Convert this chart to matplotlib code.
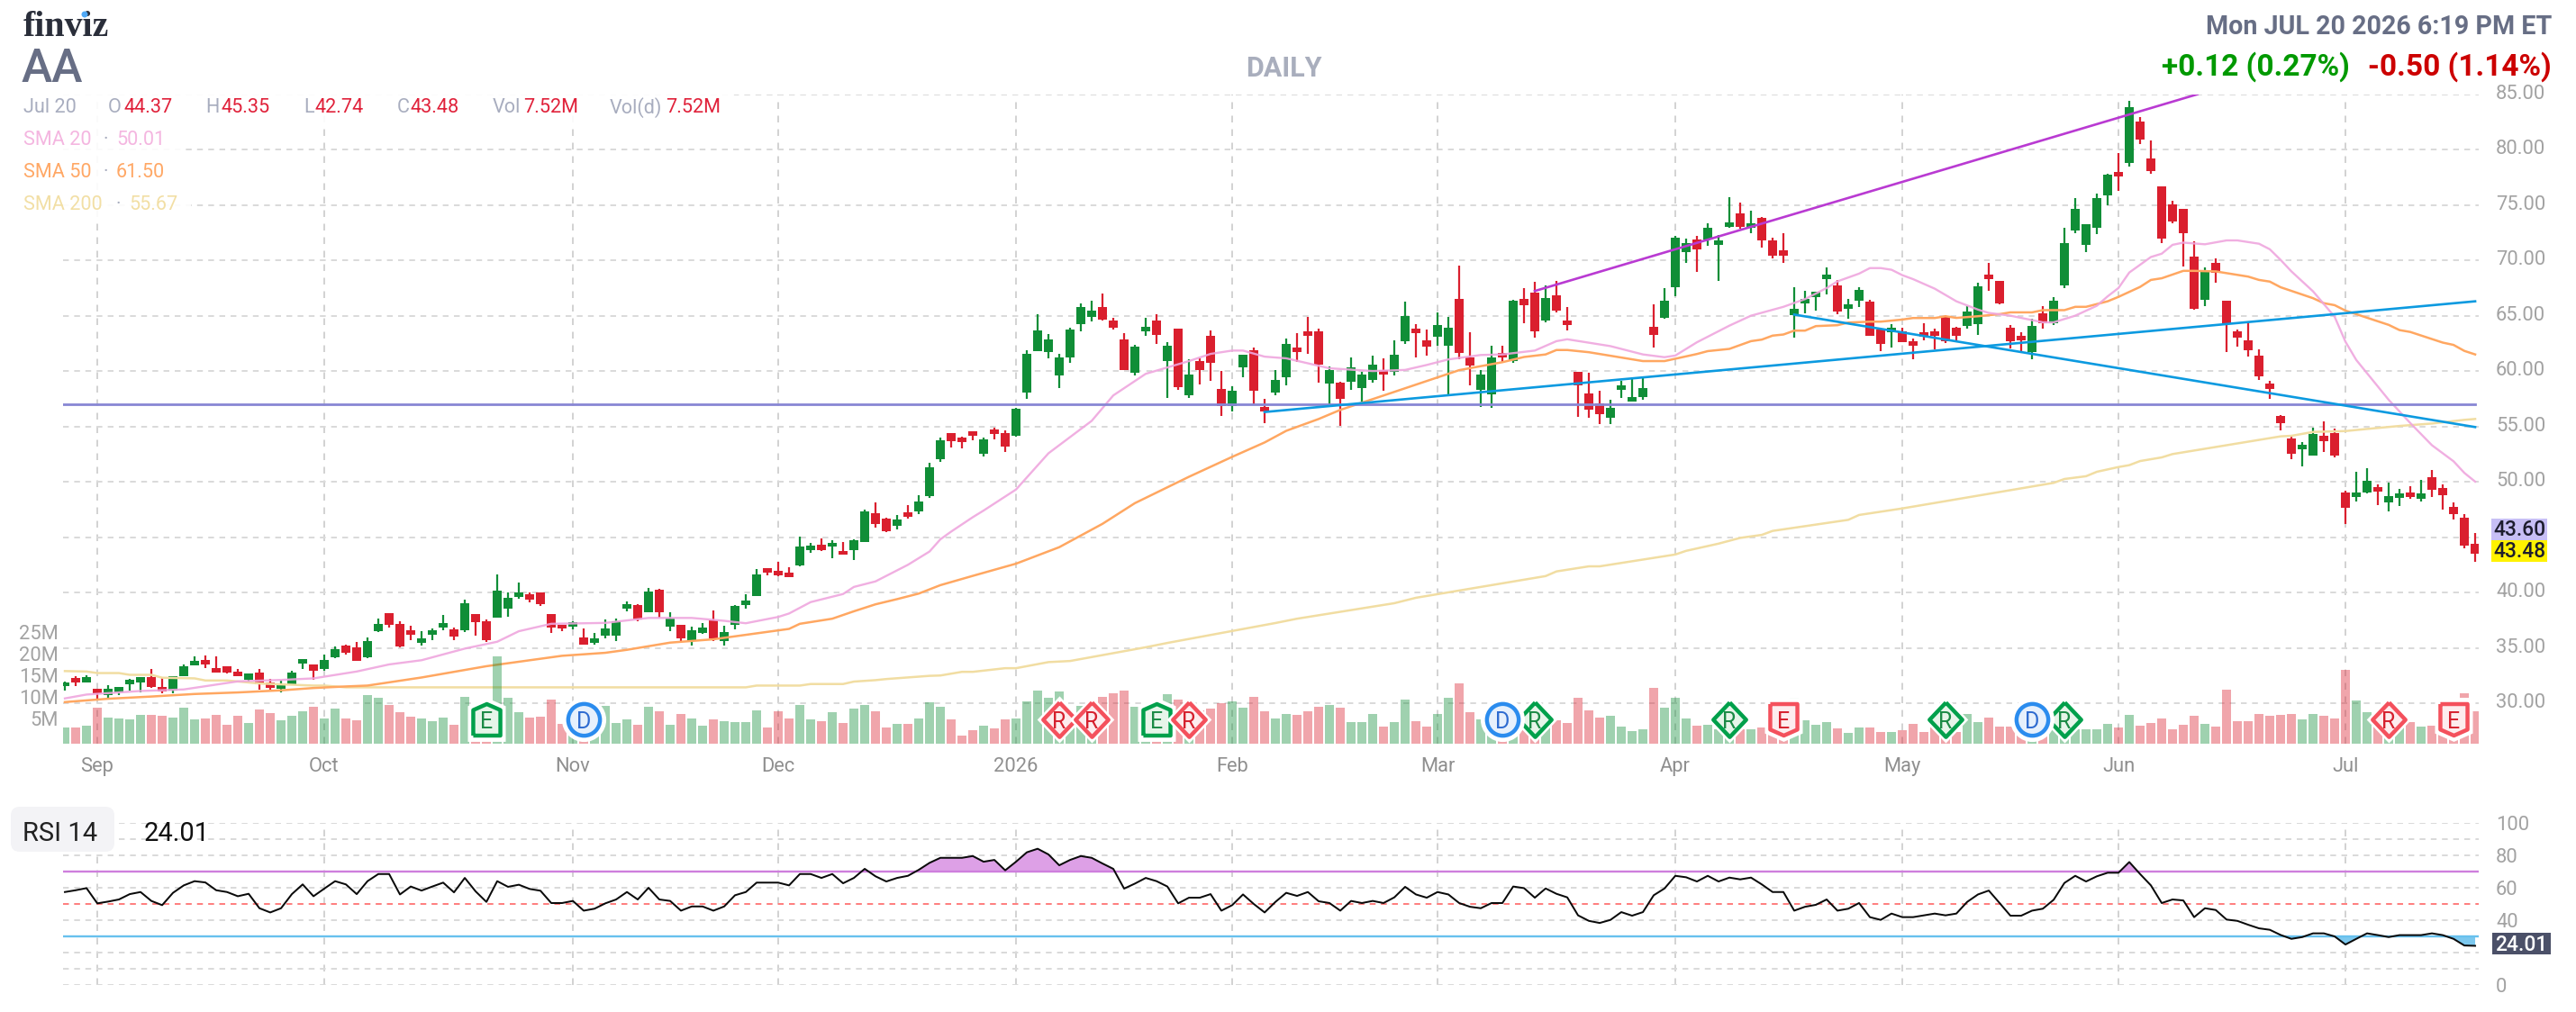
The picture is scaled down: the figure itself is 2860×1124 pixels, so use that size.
import numpy as np
import matplotlib
matplotlib.use("Agg")
import matplotlib.pyplot as plt
from matplotlib.patches import Rectangle, FancyBboxPatch, Ellipse
from matplotlib.transforms import ScaledTranslation, IdentityTransform

plt.rcParams["font.family"] = ["Roboto", "DejaVu Sans"]

opens = [31.51,32.24,31.91,31.27,30.7,30.94,31.67,31.91,32.32,31.43,31.11,32.48,33.45,33.93,33.21,33.37,32.88,32.08,32.8,31.91,
    31.27,31.67,33.61,33.53,33.13,34.18,35.23,35.07,34.18,36.52,38.14,37.17,36.6,35.47,36.2,36.85,36.68,36.6,38.06,37.41,
    37.73,38.54,39.59,39.84,39.97,38.03,37.11,36.9,35.93,35.44,36.09,36.09,38.52,38.84,38.19,40.21,36.9,37.06,35.61,36.33,
    37.46,35.61,37.06,38.84,39.7,42.2,41.95,41.8,42.48,43.86,44.35,44.11,43.78,43.86,44.59,47.19,46.7,46.05,47.27,47.35,
    48.73,52.05,54.4,54.0,54.57,52.54,54.73,54.4,54.16,58.08,61.77,61.69,59.64,61.2,64.23,64.89,65.79,64.56,62.84,59.81,
    63.58,64.56,60.87,63.82,57.84,60.87,63.17,58.41,56.86,60.3,61.86,56.77,58.08,59.4,62.1,63.58,63.58,58.9,58.99,59.07,
    58.49,59.23,60.13,59.89,62.68,63.82,62.76,63.08,62.26,66.53,61.2,58.33,57.92,61.67,60.94,66.55,67.12,64.6,66.87,64.6,
    59.96,58.01,57.12,55.74,58.34,57.28,57.69,64.0,64.84,67.61,70.78,71.92,71.92,71.43,73.05,74.27,72.97,73.87,71.83,70.94,
    65.09,66.14,66.71,68.34,67.77,65.65,66.39,66.31,63.79,63.54,63.62,62.73,63.54,63.62,64.92,63.95,64.11,64.27,68.75,68.18,
    63.95,63.14,61.73,65.18,64.28,67.76,72.66,71.43,72.9,75.9,78.0,78.81,82.54,79.23,76.71,75.09,74.67,70.37,66.47,69.8,
    66.38,63.59,62.81,61.37,58.84,55.93,53.89,52.93,52.36,54.13,54.37,49.02,48.6,49.02,49.5,48.12,48.54,49.02,48.45,50.41,
    49.41,47.73,46.74,44.37]
highs = [31.99,32.48,32.56,31.27,31.59,31.43,32.16,32.32,33.05,32.24,32.48,33.53,34.26,34.34,34.26,33.37,33.13,32.72,33.05,32.16,
    32.0,32.96,34.02,33.53,34.42,35.15,35.31,35.55,35.96,37.65,38.14,37.41,37.0,36.52,36.76,37.98,36.85,39.35,38.06,37.57,
    41.62,40.0,40.89,40.0,40.0,38.03,37.11,37.36,36.71,36.36,37.57,37.63,39.16,38.92,40.38,40.29,38.19,37.06,36.9,37.22,
    38.35,36.98,38.84,39.81,42.15,42.2,42.8,42.3,45.08,44.51,44.92,44.76,44.59,44.84,47.51,48.16,46.78,47.03,47.92,48.81,
    51.73,54.0,54.4,54.08,54.57,54.0,54.89,54.65,56.68,61.86,65.13,63.33,61.53,63.9,66.12,66.36,67.02,64.81,63.41,62.35,
    64.81,65.13,62.59,63.82,61.04,61.12,63.66,59.97,58.66,61.45,62.1,57.51,60.13,62.92,63.41,64.89,63.82,60.38,59.07,61.2,
    59.89,61.36,61.12,62.76,66.28,64.23,63.74,65.3,64.89,69.5,63.49,60.13,62.26,62.26,66.47,67.53,68.09,67.77,68.18,65.82,
    59.96,59.88,58.18,57.44,59.15,59.31,59.4,66.06,67.53,72.24,72.0,72.24,73.38,72.32,75.74,75.25,74.52,73.95,72.08,72.48,
    67.61,67.28,67.2,69.4,68.26,66.55,67.61,66.47,63.79,64.27,63.95,62.97,64.35,63.87,65.09,64.03,65.9,68.01,69.8,68.18,
    64.19,63.47,64.76,65.9,66.65,72.96,75.66,73.29,76.02,77.82,79.71,84.4,82.96,80.86,76.71,75.39,74.67,71.75,69.35,70.19,
    66.38,63.71,64.4,61.94,59.08,55.99,54.13,53.56,54.88,55.42,54.79,49.17,50.88,51.21,49.75,49.92,49.35,49.59,50.16,51.03,
    49.75,48.12,47.07,45.35]
lows = [31.1,31.51,31.91,30.3,30.38,30.7,31.11,30.94,31.35,30.86,30.86,32.48,33.45,33.21,32.8,32.72,32.4,31.91,31.19,31.19,
    30.94,31.59,33.05,32.08,32.96,34.1,34.42,33.85,34.1,36.44,36.85,35.07,35.71,35.23,35.71,36.6,35.71,36.44,36.12,35.55,
    37.73,37.82,39.43,39.11,38.79,36.36,36.5,36.68,35.28,35.28,35.88,35.61,38.27,37.38,38.19,37.71,36.5,35.52,35.2,36.25,
    35.61,35.2,36.66,38.52,39.7,41.55,41.45,41.4,42.4,43.62,43.78,43.13,43.38,42.89,44.59,45.89,45.48,45.73,46.7,47.11,
    48.57,51.81,53.11,53.03,53.76,52.3,53.84,52.7,54.08,57.51,61.77,61.12,58.49,60.71,63.58,64.48,64.56,63.74,60.05,59.64,
    63.17,62.43,57.6,58.33,57.6,58.82,59.15,55.95,56.36,59.4,57.02,55.3,57.84,58.74,60.79,61.53,58.99,56.86,55.05,58.33,
    57.26,58.99,58.25,59.64,62.43,61.2,61.36,62.26,57.92,61.04,58.74,56.77,56.69,60.76,60.78,64.35,63.05,64.44,65.33,63.7,
    55.9,55.74,55.17,55.17,57.53,57.28,57.44,62.16,64.76,66.79,69.8,68.99,71.35,68.18,72.97,72.89,72.48,71.18,70.21,69.8,
    63.05,65.25,65.49,66.96,65.17,64.76,65.82,63.14,61.83,62.16,62.65,61.1,62.81,61.92,62.57,62.73,63.87,63.3,67.28,65.99,
    62.06,61.79,61.07,63.83,64.13,67.46,72.48,70.77,72.39,75.0,76.29,78.51,80.53,77.85,71.52,73.38,69.47,65.57,65.9,68.0,
    61.7,62.18,61.28,59.17,57.46,54.61,52.03,51.37,52.36,52.69,52.18,46.17,48.21,48.93,47.88,47.31,47.79,48.45,48.21,48.6,
    47.46,46.59,43.98,42.74]
closes = [31.91,31.83,32.32,30.86,31.27,31.43,32.08,32.32,31.43,31.03,32.4,33.37,33.85,33.53,32.8,32.8,32.48,32.72,31.67,31.35,
    31.67,32.8,34.02,32.96,33.93,34.9,34.58,33.85,35.63,37.17,37.09,35.15,36.2,35.87,36.6,37.25,36.04,39.03,37.33,35.71,
    40.16,39.51,40.0,39.35,38.92,36.82,36.74,37.3,35.28,35.82,36.74,37.38,38.92,37.55,40.05,38.19,37.63,35.85,36.58,36.82,
    35.85,36.41,38.76,39.24,41.62,41.8,41.55,41.4,44.19,44.27,43.86,44.51,43.38,44.76,47.35,46.21,45.57,46.62,46.86,48.24,
    51.32,53.76,53.67,53.59,54.16,53.84,54.32,53.19,56.62,61.53,63.66,62.84,61.2,63.74,65.79,65.46,64.64,63.9,60.13,62.18,
    63.99,63.25,62.26,58.58,59.72,60.05,60.71,56.86,58.25,61.45,58.25,56.36,59.23,62.43,61.69,63.17,60.54,60.05,57.51,60.3,
    59.72,60.54,59.72,61.45,64.97,63.41,62.18,64.15,63.9,61.61,60.46,59.72,61.2,61.26,66.39,65.98,63.62,66.63,65.49,64.19,
    58.74,56.55,56.14,56.71,58.74,57.69,58.5,63.3,66.39,72.08,71.59,71.02,72.97,71.83,73.46,73.05,73.38,71.83,70.45,70.45,
    65.65,66.55,67.2,68.75,65.41,66.06,67.36,63.22,62.48,63.95,62.65,62.32,63.13,63.22,62.73,63.22,65.41,67.69,68.34,66.14,
    62.69,62.75,64.04,64.28,66.38,71.52,74.67,73.29,75.66,77.76,77.58,83.86,80.92,78.09,72.0,73.5,72.48,65.63,69.08,68.9,
    64.28,62.99,61.85,59.5,58.42,55.27,52.51,53.32,54.31,53.65,52.36,47.64,49.02,50.07,49.12,48.69,48.93,48.6,48.93,49.26,
    48.78,47.07,44.22,43.48]
volumes = [3.75,3.75,4.17,8.33,6.04,5.83,5.63,6.67,6.67,6.46,6.04,8.33,5.63,5.83,6.67,4.38,6.46,4.79,7.92,7.08,
    5.42,6.46,7.5,8.54,5.83,8.13,5.83,5.42,11.25,10.63,8.96,7.29,6.25,5.83,5.21,6.04,4.38,10.83,6.0,6.0,
    20.2,10.63,7.29,6.04,6.25,10.21,4.58,5.4,5.4,5.4,8.75,4.79,5.63,4.38,8.54,7.5,4.38,6.88,5.83,4.17,
    5.63,5.21,5.0,5.0,7.71,3.75,7.5,5.83,8.96,5.63,5.21,7.29,4.79,8.13,9.04,7.53,3.77,4.6,4.6,5.86,
    9.62,8.62,5.69,1.92,3.18,4.18,3.6,5.69,5.86,9.87,12.3,10.71,12.13,7.0,8.79,7.0,10.88,11.72,12.3,8.62,
    7.0,7.0,11.55,10.3,7.0,7.8,8.2,9.29,9.87,8.37,10.88,7.53,5.86,6.95,6.69,7.53,8.62,9.04,8.37,5.02,
    5.02,6.95,4.02,5.02,10.29,5.27,4.02,6.95,10.71,13.97,7.36,5.69,7.0,6.0,7.0,6.0,6.0,5.5,5.44,4.85,
    10.71,7.78,6.11,6.53,4.02,2.93,3.35,12.97,8.37,10.71,5.86,4.18,4.44,3.4,3.5,3.33,3.33,3.75,4.0,4.0,
    10.63,5.42,4.38,5.0,3.54,2.5,3.75,3.75,2.71,2.71,3.13,4.58,2.71,3.7,3.5,2.71,6.88,5.0,6.04,3.96,
    3.96,3.5,3.5,2.6,3.5,3.5,3.33,3.33,3.33,4.58,3.75,6.67,4.17,4.79,5.83,3.33,4.38,6.46,4.58,3.96,
    12.5,5.21,5.21,6.88,6.46,6.67,6.88,5.63,6.88,6.46,5.83,17.08,10.0,7.29,6.0,5.0,5.0,5.0,3.96,4.17,
    4.5,5.0,11.67,7.52]
rsi = [57.2,58.3,59.6,50.2,51.3,52.6,55.9,57.2,51.7,49.1,56.7,61.3,63.9,63.1,58.3,57.2,54.6,56.1,47.2,44.6,
    47.2,55.9,61.9,54.6,59.3,63.9,61.9,55.9,63.9,68.3,68.3,55.7,60.6,58.1,60.6,63.0,57.0,65.9,57.6,51.1,
    63.9,60.4,61.7,59.1,58.0,50.4,50.4,51.7,45.7,46.9,50.2,52.6,57.2,52.6,59.8,52.6,51.7,45.7,48.3,48.3,
    45.7,48.3,55.2,57.2,63.0,63.0,63.0,61.3,68.3,68.3,65.9,68.3,62.6,65.9,71.5,66.9,63.7,65.9,67.2,70.9,
    75.2,78.3,78.3,78.3,79.4,75.9,77.0,70.6,75.9,81.7,83.9,80.4,73.7,77.0,79.4,78.3,74.8,71.5,59.3,62.4,
    65.9,63.9,60.6,50.2,53.7,53.7,55.9,45.7,49.1,55.7,49.8,44.6,51.1,56.7,54.8,57.2,51.5,50.4,45.7,51.7,
    50.4,51.7,50.4,53.9,60.4,55.7,53.7,57.2,55.7,50.4,48.1,47.2,50.4,50.4,60.6,59.6,53.7,59.4,56.1,53.9,
    42.8,39.4,38.1,40.0,44.8,42.6,44.8,55.2,59.4,67.2,66.3,63.7,67.2,63.7,66.1,65.0,66.1,61.9,57.2,57.2,
    45.7,48.1,49.3,52.6,45.7,46.9,50.4,41.7,40.0,43.9,41.7,41.7,42.8,43.9,42.8,43.9,51.1,55.7,58.1,50.4,
    42.6,42.6,45.7,46.9,52.4,62.8,67.2,63.7,66.9,69.1,69.1,75.7,68.3,61.3,50.4,52.6,52.0,41.7,47.2,46.1,
    40.2,39.4,37.0,34.8,33.9,30.7,28.3,29.4,31.7,31.7,29.8,24.8,28.3,31.7,30.6,29.4,30.6,30.6,30.6,31.7,
    30.6,28.3,24.2,24.01]

sma20_bars = [0,2,7,11,16,20,23,27,30,33,37,40,42,45,50,54,58,61,63,66,67,69,72,73,75,78,80,81,82,84,85,88,91,95,97,100,104,106,108,109,111,113,117,121,124,126,128,131,133,136,138,139,143,146,148,149,151,152,154,156,159,161,163,164,166,167,168,169,170,171,173,175,177,178,180,182,183,184,186,188,189,190,191,193,194,195,196,198,200,201,203,204,205,206,208,210,211,212,214,215,217,218,219,221,222,223]
sma20_vals = [30.43,30.78,31.1,31.24,31.97,32.1,32.24,32.86,33.5,33.88,34.93,35.55,36.5,37.17,37.25,37.7,37.7,37.44,37.22,37.79,38.1,39.13,39.86,40.5,41.0,42.5,43.7,44.8,45.5,46.8,47.4,49.3,52.57,55.5,57.8,59.75,60.9,61.55,61.85,61.85,61.3,61.15,60.25,60.0,60.1,60.55,61.05,61.45,61.5,61.85,62.7,62.87,62.25,61.5,61.25,61.4,62.6,63.1,64.1,65.0,65.8,66.5,67.5,68.1,68.8,69.3,69.3,69.15,68.66,68.3,67.44,66.3,65.55,65.25,65.0,64.6,64.4,64.4,65.0,65.9,66.75,67.5,68.9,70.3,70.6,71.4,71.6,71.45,71.8,71.8,71.5,71.0,70.04,69.0,67.2,64.9,62.65,61.0,58.6,57.4,55.3,54.3,53.3,51.85,50.8,50.01]
sma50_bars = [0,4,8,12,16,20,23,26,28,33,39,46,50,52,56,60,67,68,71,73,75,77,79,81,84,88,92,96,99,104,108,111,113,116,118,122,126,129,133,135,137,138,139,141,146,148,151,152,154,156,157,158,159,160,161,162,164,165,167,168,170,171,173,174,175,177,179,180,182,183,185,186,187,189,190,192,193,194,196,197,199,202,203,204,205,208,209,210,211,215,216,217,220,221,222,223]
sma50_vals = [30.1,30.4,30.6,30.83,30.97,31.16,31.37,31.51,31.59,32.32,33.34,34.28,34.55,34.82,35.47,35.77,36.71,37.17,37.63,38.3,38.93,39.4,39.9,40.66,41.5,42.6,44.09,46.2,48.07,50.45,52.25,53.55,54.6,55.67,56.49,57.79,59.1,60.08,60.8,61.27,61.5,61.9,61.9,61.7,60.9,60.9,61.54,61.8,62.0,62.7,62.84,63.2,63.3,63.65,63.65,64.06,64.14,64.38,64.46,64.46,64.65,64.79,64.79,64.95,64.8,64.95,65.14,65.3,65.3,65.5,65.5,65.8,65.8,66.3,66.7,67.6,68.23,68.38,69.05,69.05,69.0,68.53,68.23,68.08,67.57,66.58,66.13,65.95,65.46,64.17,63.7,63.53,62.57,62.36,61.82,61.5]
sma200_bars = [0,2,3,5,6,8,9,12,13,15,18,20,23,24,26,63,64,68,69,72,73,75,76,80,81,83,84,87,88,91,93,100,102,112,114,123,125,137,138,141,142,149,150,153,155,157,158,165,166,170,184,185,187,188,190,191,192,194,195,205,206,208,211,213,216,219,222,223]
sma200_vals = [32.9,32.86,32.72,32.72,32.56,32.56,32.3,32.24,32.05,32.05,31.78,31.7,31.59,31.59,31.43,31.43,31.59,31.59,31.73,31.73,31.95,32.08,32.18,32.47,32.5,32.83,32.83,33.16,33.16,33.71,33.81,35.05,35.44,37.24,37.63,39.03,39.52,41.48,41.9,42.36,42.36,43.43,43.76,44.41,44.93,45.2,45.56,46.56,47.0,47.59,49.9,50.25,50.5,50.9,51.33,51.5,51.87,52.2,52.5,54.1,54.15,54.5,54.58,54.77,55.04,55.26,55.59,55.67]

trend_purple_bars = [136, 197.3]
trend_purple_vals = [67.23, 85.0]
trend_up_bars = [111, 223]
trend_up_vals = [56.3, 66.3]
trend_down_bars = [160, 223]
trend_down_vals = [65.1, 54.94]
level_bars = [-0.17, 223]
level_vals = [57.0, 57.0]

month_bars = [3, 24, 47, 66, 88, 108, 127, 149, 170, 190, 211]
month_labels = ["Sep", "Oct", "Nov", "Dec", "2026", "Feb", "Mar", "Apr", "May", "Jun", "Jul"]
price_ticks = [30, 35, 40, 45, 50, 55, 60, 65, 70, 75, 80, 85]
volume_ticks = [5, 10, 15, 20, 25]
rsi_ticks = [0, 10, 20, 30, 40, 50, 60, 70, 80, 90, 100]

earn_bars = [39, 101, 159, 221]
earn_good = [True, True, False, False]
rev_bars = [92, 95, 104, 136, 154, 174, 185, 215]
rev_good = [False, False, False, True, True, True, True, False]
div_bars = [48, 133, 182]

W, H = 2860, 1124
GREEN, RED = "#108E37", "#DA1F2E"
GRID_H, GRID_V = "#DADADA", "#CBCBCB"
GREY_AX = "#A2A2A2"
PX = 72 / 200  # one image pixel in points


def fx(px):
    return px / W


def fy(py):
    return 1 - py / H


def shift_labels(labels, dy_px):
    for lab in labels:
        lab.set_transform(lab.get_transform() + ScaledTranslation(0, dy_px * PX / 72, fig.dpi_scale_trans))


fig = plt.figure(figsize=(W / 200, H / 200), dpi=200, facecolor="white")
left, right = 70, 2752
ax = fig.add_axes([fx(left), fy(826), fx(right - left), fy(104.7) - fy(826)], zorder=1)
ax_vol = ax.twinx()
ax_vol.set_zorder(2)
ax_vol.patch.set_visible(False)
ax_rsi = fig.add_axes([fx(left), fy(1093.7), fx(right - left), fy(913.7) - fy(1093.7)], zorder=1)

bars = np.arange(len(closes))
opens_a, closes_a = np.array(opens), np.array(closes)
up = closes_a >= opens_a
colors = np.where(up, GREEN, RED)

# price pane
ax.vlines(bars, lows, highs, colors=colors, lw=0.8, zorder=3)
ax.bar(bars, np.abs(closes_a - opens_a), bottom=np.minimum(opens_a, closes_a), width=0.83, color=colors, zorder=3)
ax.plot(sma200_bars, sma200_vals, color="#F1DDA2", lw=0.9, zorder=4)
ax.plot(sma50_bars, sma50_vals, color="#FFA761", lw=0.9, zorder=4)
ax.plot(sma20_bars, sma20_vals, color="#EFA6DE", lw=0.85, alpha=0.9, zorder=4)
ax.plot(level_bars, level_vals, color="#8886D4", lw=1.0, zorder=5)
ax.plot(trend_purple_bars, trend_purple_vals, color="#B93AD2", lw=0.95, zorder=5)
ax.plot(trend_up_bars, trend_up_vals, color="#0C9AE0", lw=0.95, zorder=5)
ax.plot(trend_down_bars, trend_down_vals, color="#0C9AE0", lw=0.95, zorder=5)

ax.set_xlim(-0.17, 223.33)
ax.set_ylim(26.34, 85)
ax.yaxis.tick_right()
# the 45.00 label sits behind the last price tags in the original
ax.set_yticks(price_ticks, ["" if t == 45 else f"{t:.2f}" for t in price_ticks])
ax.set_xticks(month_bars, month_labels)
ax.tick_params(axis="y", length=0, pad=19 * PX, labelsize=7.9, labelcolor=GREY_AX)
ax.tick_params(axis="x", length=0, pad=15 * PX, labelsize=7.9, labelcolor="#8F8F8F")
ax.set_axisbelow(True)
ax.grid(axis="y", color=GRID_H, lw=0.72, linestyle=(0, (3.2, 3)))
ax.grid(axis="x", color=GRID_V, lw=0.6, linestyle=(0, (4.5, 4.5)))
for s in ax.spines.values():
    s.set_visible(False)
shift_labels(ax.get_yticklabels(), 3)

# volume
ax_vol.bar(bars, volumes, width=0.83, color=colors, alpha=0.4, zorder=2)
ax_vol.set_ylim(0, 150.3)
ax_vol.yaxis.tick_left()
ax_vol.set_yticks(volume_ticks, [f"{t}M" for t in volume_ticks])
ax_vol.tick_params(axis="y", length=0, pad=5 * PX, labelsize=7.9, labelcolor=GREY_AX)
ax_vol.tick_params(axis="x", length=0, labelbottom=False)
for s in ax_vol.spines.values():
    s.set_visible(False)
shift_labels(ax_vol.get_yticklabels(), 4)

# event badges
pent_up = [(-0.86, -1), (0.86, -1), (0.86, 0.62), (0, 1), (-0.86, 0.62), (-0.86, -1)]
pent_down = [(-0.86, 1), (0.86, 1), (0.86, -0.62), (0, -1), (-0.86, -0.62), (-0.86, 1)]
diamond = [(0, 1), (0.95, 0), (0, -1), (-0.95, 0), (0, 1)]
badge_y = 5.6
badge_kw = dict(zorder=6, joinstyle="round")


def badge(bar, letter, marker, size, face, edge, text):
    ax_vol.scatter([bar], [badge_y], marker=marker, s=(size + 5) ** 2, c="white", linewidths=0, zorder=6)
    ax_vol.scatter([bar], [badge_y], marker=marker, s=size ** 2, c=face, edgecolors=edge, linewidths=1.6, **badge_kw)
    ax_vol.text(bar, badge_y, letter, color=text, fontsize=9, ha="center", va="center_baseline", zorder=7)


for b, good in zip(earn_bars, earn_good):
    if good:
        badge(b, "E", pent_up, 12.6, "#E6F5E9", "#00A04B", "#1B8A45")
    else:
        badge(b, "E", pent_down, 12.6, "#FDECEE", "#F4505C", "#D5202E")
for b, good in zip(rev_bars, rev_good):
    if good:
        badge(b, "R", diamond, 13.8, "#E6F5E9", "#00A04B", "#1B8A45")
    else:
        badge(b, "R", diamond, 13.8, "#FDECEE", "#F4505C", "#D5202E")
for b in div_bars:
    badge(b, "D", "o", 12.7, "#E6F0FC", "#2B8CEE", "#2E6BD0")

# rsi pane
rsi_a = np.array(rsi)
ax_rsi.fill_between(bars, rsi_a, 70, where=rsi_a > 70, interpolate=True, color="#DDA0E6", lw=0, zorder=2)
ax_rsi.fill_between(bars, rsi_a, 30, where=rsi_a < 30, interpolate=True, color="#7CC8EE", lw=0, zorder=2)
ax_rsi.axhline(70, color="#CE7FDD", lw=0.85, zorder=3)
ax_rsi.axhline(30, color="#68C1EE", lw=0.85, zorder=3)
ax_rsi.axhline(50, color="#FF8080", lw=0.72, linestyle=(0, (3.2, 3)), zorder=3)
ax_rsi.plot(bars, rsi_a, color="#0A0A0A", lw=0.72, zorder=4)
ax_rsi.set_xlim(-0.17, 223.33)
ax_rsi.set_ylim(0, 100)
ax_rsi.yaxis.tick_right()
ax_rsi.set_yticks(rsi_ticks, [str(t) if t in (0, 40, 60, 80, 100) else "" for t in rsi_ticks])
ax_rsi.set_xticks(month_bars, [""] * len(month_bars))
ax_rsi.tick_params(axis="y", length=0, pad=19 * PX, labelsize=7.9, labelcolor=GREY_AX)
ax_rsi.tick_params(axis="x", length=0)
ax_rsi.set_axisbelow(True)
ax_rsi.grid(axis="y", color=GRID_H, lw=0.72, linestyle=(0, (3.2, 3)))
ax_rsi.grid(axis="x", color=GRID_V, lw=0.6, linestyle=(0, (4.5, 4.5)))
for s in ax_rsi.spines.values():
    s.set_visible(False)


def put(px, py, s, color, size=7.8, weight="normal", ha="left", family=None, z=9):
    kw = {"family": family} if family else {}
    return fig.text(fx(px), fy(py), s, color=color, fontsize=size, fontweight=weight, ha=ha, va="center", zorder=z, **kw)


def box(x0, y0, x1, y1, color, alpha=1.0, z=8):
    fig.add_artist(Rectangle((fx(x0), fy(y1)), fx(x1 - x0), fy(y0) - fy(y1), transform=fig.transFigure,
                             facecolor=color, edgecolor="none", alpha=alpha, zorder=z))


# header
put(26, 30, "finviz", "#2A2E3A", size=14.3, weight="bold", family="Liberation Serif")
fig.add_artist(Ellipse((fx(94), fy(16)), fx(7), fy(0) - fy(7), transform=fig.transFigure, facecolor="#4FA8F5", edgecolor="none", zorder=10))
put(24, 77, "AA", "#676E85", size=18.5, weight="medium")
put(1425, 76, "DAILY", "#A9AEBD", size=11, weight="bold", ha="center")
put(2833, 30, "Mon JUL 20 2026 6:19 PM ET", "#676E85", size=10.3, weight="bold", ha="right")
put(2833, 74, "-0.50 (1.14%)", "#CC0000", size=12, weight="bold", ha="right")
put(2609, 74, "+0.12 (0.27%)", "#009900", size=12, weight="bold", ha="right")

# legend rows over a soft white backing
box(15, 104, 815, 137, "white", 0.9)
box(15, 137, 203, 171, "white", 0.9)
box(15, 171, 203, 207, "white", 0.9)
box(15, 207, 212, 243, "white", 0.9)
LAB, VAL = "#A8ADBF", "#E0213A"
for x, s, c in [(26, "Jul 20", LAB), (120, "O", LAB), (138, "44.37", VAL), (228, "H", LAB), (246, "45.35", VAL),
                (337, "L", LAB), (350, "42.74", VAL), (441, "C", LAB), (456, "43.48", VAL), (547, "Vol", LAB),
                (581, "7.52M", VAL), (677, "Vol(d)", LAB), (739, "7.52M", VAL)]:
    put(x, 119.5, s, c)
for py, name, val, col, dot_x, val_x in [(155.5, "SMA 20", "50.01", "#F4B6E0", 115, 129), (191.5, "SMA 50", "61.50", "#FFA866", 115, 129),
                                         (227.5, "SMA 200", "55.67", "#F2DFA5", 129, 143)]:
    put(26, py, name, col)
    put(dot_x, py, "·", LAB)
    put(val_x, py, val, col)

# last value tags on the right
box(2766, 576, 2828, 599.5, "#C7BFF5")
box(2766, 599.5, 2828, 624, "#FFF200")
put(2797, 588.5, "43.60", "#1D1D2E", size=8.2, weight="medium", ha="center")
put(2797, 612.5, "43.48", "#1D1D2E", size=8.2, weight="medium", ha="center")
box(2767, 1036, 2832, 1060, "#4B5068")
put(2799.5, 1049, "24.01", "white", size=8.2, weight="medium", ha="center")

# rsi caption
fig.add_artist(FancyBboxPatch((12 + 10, H - 946 + 10), 115 - 20, 50 - 20, boxstyle="round,pad=10,rounding_size=10",
                              transform=IdentityTransform(), facecolor="#F3F3F6", edgecolor="none", zorder=8))
put(25, 926, "RSI 14", "#222222", size=10.5)
put(160, 926, "24.01", "#111111", size=10.5)

fig.savefig("out.png", dpi=200)
